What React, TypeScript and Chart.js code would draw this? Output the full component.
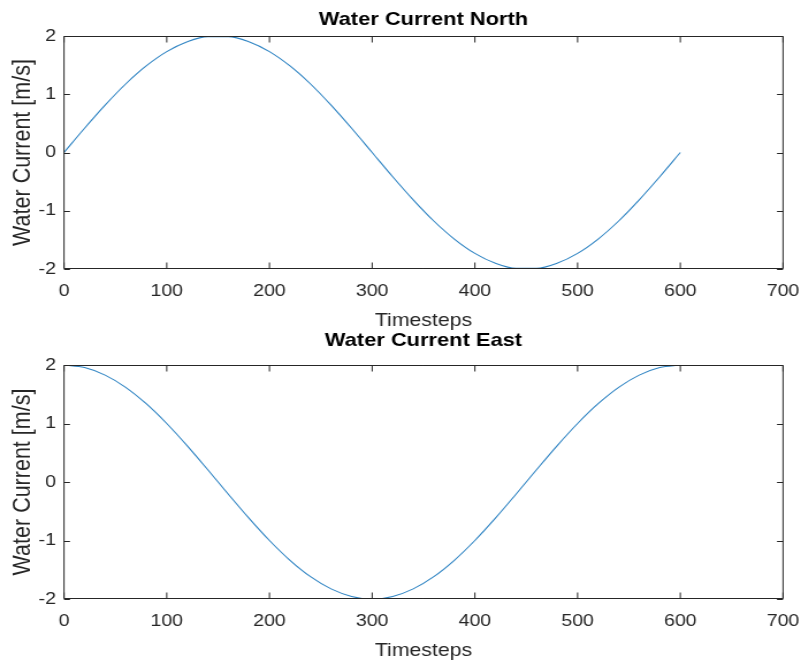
import React, { useEffect, useRef } from "react";
import { Chart, registerables } from "chart.js";

Chart.register(...registerables);

// ---- data ----
const timesteps = [
  0, 20, 40, 60, 80, 100, 120, 140, 160, 180, 200, 220, 240, 260, 280, 300,
  320, 340, 360, 380, 400, 420, 440, 460, 480, 500, 520, 540, 560, 580, 600,
];
const northValues = [
  0, 0.416, 0.813, 1.176, 1.486, 1.732, 1.902, 1.989, 1.989, 1.902, 1.732, 1.486, 1.176, 0.813, 0.416, 0,
  -0.416, -0.813, -1.176, -1.486, -1.732, -1.902, -1.989, -1.989, -1.902, -1.732, -1.486, -1.176, -0.813, -0.416, 0,
];
const eastValues = [
  2, 1.956, 1.827, 1.618, 1.338, 1.0, 0.618, 0.209, -0.209, -0.618, -1.0, -1.338, -1.618, -1.827, -1.956, -2,
  -1.956, -1.827, -1.618, -1.338, -1.0, -0.618, -0.209, 0.209, 0.618, 1.0, 1.338, 1.618, 1.827, 1.956, 2,
];
const xTickLabels = ["0", "100", "200", "300", "400", "500", "600", "700"];
const yTickLabels = ["-2", "-1", "0", "1", "2"];
const titles = ["Water Current North", "Water Current East"];
const xAxisLabel = "Timesteps";
const yAxisLabel = "Water Current [m/s]";

// ---- layout (internal canvas units; canvas is stretched horizontally) ----
const INTERNAL_W = 696;
const DISPLAY_W = 801;
const STRETCH = DISPLAY_W / INTERNAL_W;
const AXIS_LEFT = 64 / STRETCH;
const AXIS_RIGHT = 783 / STRETCH;
const FONT = "'Liberation Sans', Arial, Helvetica, sans-serif";
const TEXT = "#262626";
const LINE = "#2f84c3";

const boxPlugin = {
  id: "matlabBox",
  afterDatasetsDraw(chart: any) {
    const { ctx, chartArea, scales } = chart;
    const { left, right, top, bottom } = chartArea;
    const xs = scales.x;
    const ys = scales.y;
    ctx.save();
    ctx.strokeStyle = TEXT;
    ctx.lineWidth = 1;
    const t = Math.round(top) + 0.5;
    const b = Math.round(bottom) - 0.5;
    ctx.beginPath();
    ctx.rect(left, t, right - left, b - t);
    ctx.stroke();
    const tlx = 6;
    const tly = 6 / STRETCH;
    ctx.beginPath();
    xs.ticks.forEach((tk: any) => {
      const px = xs.getPixelForValue(tk.value);
      ctx.moveTo(px, b);
      ctx.lineTo(px, b - tlx);
      ctx.moveTo(px, t);
      ctx.lineTo(px, t + tlx);
    });
    ys.ticks.forEach((tk: any) => {
      const py = Math.round(ys.getPixelForValue(tk.value)) + 0.5;
      ctx.moveTo(left, py);
      ctx.lineTo(left + tly, py);
      ctx.moveTo(right, py);
      ctx.lineTo(right - tly, py);
    });
    ctx.stroke();
    ctx.restore();
  },
};

function makeConfig(title: string, values: number[], height: number, areaTop: number, areaBottom: number, titleCenter: number) {
  const titleLH = 19 * 1.2;
  const padTop = titleCenter - titleLH / 2;
  const padBottom = areaTop - titleLH - padTop;
  const xHeight = height - areaBottom;
  return {
    type: "line" as const,
    data: {
      datasets: [
        {
          data: timesteps.map((t, i) => ({ x: t, y: values[i] })),
          borderColor: LINE,
          borderWidth: 1.1,
          pointRadius: 0,
          fill: false,
          cubicInterpolationMode: "monotone" as const,
        },
      ],
    },
    options: {
      animation: false as const,
      responsive: false,
      devicePixelRatio: 1,
      layout: { padding: { left: 0, right: INTERNAL_W - AXIS_RIGHT, top: 0, bottom: 0 } },
      plugins: {
        legend: { display: false },
        tooltip: { enabled: false },
        title: {
          display: true,
          fullSize: false,
          text: title,
          color: "#000",
          font: { family: FONT, size: 19, weight: "bold" as const, lineHeight: 1.2 },
          padding: { top: padTop, bottom: padBottom },
        },
      },
      scales: {
        x: {
          type: "linear" as const,
          min: 0,
          max: 700,
          grid: { display: false, drawTicks: false },
          border: { display: false },
          ticks: {
            stepSize: 100,
            padding: 0,
            color: TEXT,
            font: { family: FONT, size: 17, lineHeight: 2.65 },
            maxRotation: 0,
            callback: (_v: any, i: number) => xTickLabels[i],
          },
          title: {
            display: true,
            text: xAxisLabel,
            color: TEXT,
            font: { family: FONT, size: 18.5, lineHeight: 1 },
            padding: { top: 0, bottom: 0 },
          },
          afterFit: (s: any) => {
            s.height = xHeight;
          },
        },
        y: {
          type: "linear" as const,
          min: -2,
          max: 2,
          grid: { display: false, drawTicks: false },
          border: { display: false },
          ticks: {
            stepSize: 1,
            padding: 7,
            color: TEXT,
            font: { family: FONT, size: 17 },
            callback: (_v: any, i: number) => yTickLabels[i],
          },
          title: {
            display: true,
            text: yAxisLabel,
            color: TEXT,
            font: { family: FONT, size: 21.5, lineHeight: 1 },
            padding: { top: 9, bottom: 0 },
          },
          afterFit: (s: any) => {
            s.width = AXIS_LEFT;
          },
        },
      },
    },
    plugins: [boxPlugin],
  };
}

function Panel(props: { title: string; values: number[]; top: number; height: number; areaTop: number; areaBottom: number; titleCenter: number }) {
  const ref = useRef<HTMLCanvasElement | null>(null);
  useEffect(() => {
    if (!ref.current) return;
    const chart = new Chart(
      ref.current,
      makeConfig(props.title, props.values, props.height, props.areaTop, props.areaBottom, props.titleCenter) as any
    );
    return () => chart.destroy();
  }, []);
  return (
    <canvas
      ref={ref}
      width={INTERNAL_W}
      height={props.height}
      style={{
        position: "absolute",
        left: 0,
        top: props.top,
        width: DISPLAY_W + "px",
        height: props.height + "px",
      }}
    />
  );
}

export default function App() {
  return (
    <div style={{ position: "absolute", left: 0, top: 0, width: DISPLAY_W, height: 660, background: "#fff" }}>
      <Panel title={titles[0]} values={northValues} top={0} height={330} areaTop={36} areaBottom={269} titleCenter={20} />
      <Panel title={titles[1]} values={eastValues} top={325} height={335} areaTop={40} areaBottom={274} titleCenter={15.5} />
    </div>
  );
}
